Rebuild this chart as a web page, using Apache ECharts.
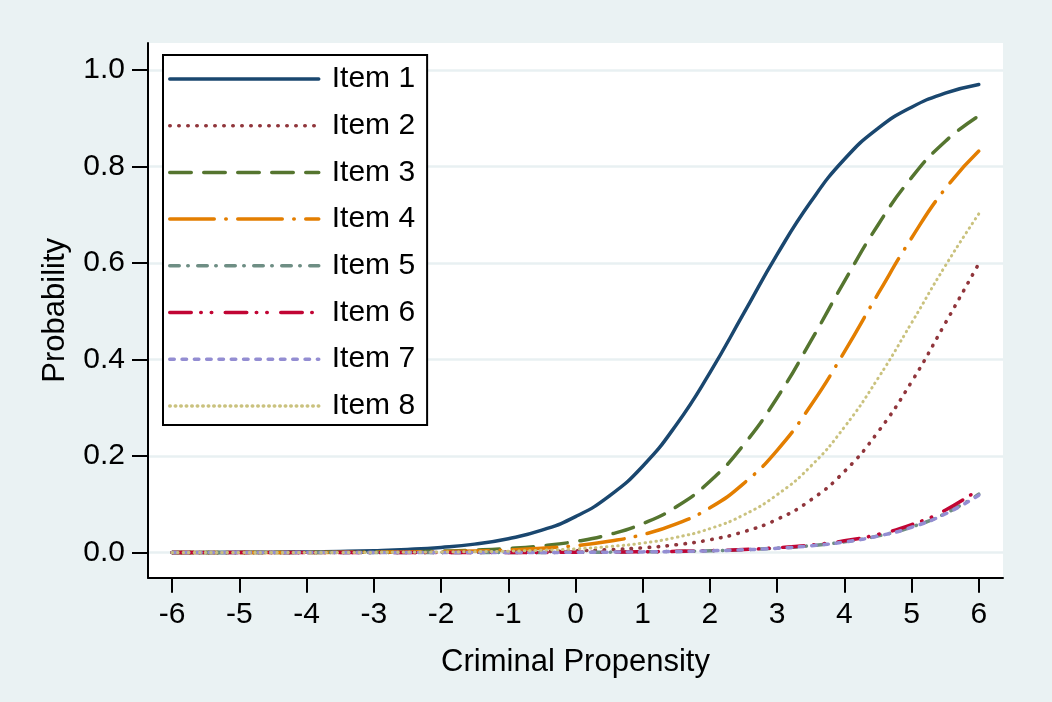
<!DOCTYPE html>
<html><head><meta charset="utf-8">
<script src="https://cdn.jsdelivr.net/npm/echarts@6/dist/echarts.min.js"></script>
<style>html,body{margin:0;padding:0;background:#fff}#c{width:1052px;height:702px}</style>
</head><body><div id="c"></div>
<script>
const xs = [-6,-5.5,-5,-4.5,-4,-3.5,-3,-2.5,-2,-1.5,-1,-0.5,0,0.5,1,1.5,2,2.5,3,3.5,4,4.5,5,5.5,6];
const item1 = [0.0002,0.00033,0.00054,0.00089,0.00147,0.00242,0.00399,0.00656,0.0108,0.0176,0.0288,0.0465,0.0745,0.117,0.179,0.265,0.373,0.495,0.618,0.727,0.815,0.879,0.923,0.952,0.970];
const item2 = [0.00001,0.00002,0.00002,0.00004,0.00007,0.00011,0.00018,0.0003,0.0005,0.0008,0.0014,0.0022,0.0037,0.0061,0.0099,0.0163,0.0266,0.0431,0.069,0.109,0.168,0.250,0.354,0.475,0.599];
const item3 = [0.00006,0.0001,0.00016,0.00026,0.00043,0.00071,0.00117,0.00193,0.00317,0.00522,0.00858,0.0141,0.0230,0.0374,0.060,0.095,0.148,0.223,0.321,0.438,0.562,0.679,0.777,0.852,0.905];
const item4 = [0.00004,0.00007,0.00011,0.00019,0.0003,0.0005,0.0008,0.0013,0.0021,0.0034,0.0055,0.0090,0.0145,0.0234,0.0373,0.0594,0.0928,0.143,0.212,0.305,0.416,0.536,0.652,0.754,0.832];
const item5 = [0.000003,0.000004,0.000007,0.000011,0.000017,0.000027,0.000042,0.000066,0.0001,0.00016,0.00026,0.0004,0.00062,0.00098,0.0015,0.0024,0.0038,0.0059,0.0092,0.0143,0.0223,0.0346,0.0532,0.081,0.121];
const item6 = [0.000003,0.000005,0.000008,0.000012,0.000019,0.000029,0.000046,0.000072,0.00011,0.00018,0.00028,0.00044,0.00068,0.0011,0.0017,0.0026,0.0041,0.0064,0.0101,0.0157,0.0244,0.0377,0.0579,0.0879,0.131];
const item7 = [0.000003,0.000004,0.000007,0.000011,0.000017,0.000026,0.000041,0.000064,0.0001,0.00016,0.00025,0.00039,0.0006,0.00095,0.0015,0.0023,0.0037,0.0058,0.0090,0.0141,0.0220,0.0342,0.0525,0.080,0.119];
const item8 = [0.00003,0.00004,0.00007,0.00011,0.00018,0.00028,0.00045,0.00073,0.00117,0.0019,0.0030,0.0049,0.0078,0.0125,0.0198,0.0317,0.0497,0.078,0.120,0.179,0.260,0.361,0.476,0.594,0.702];

const seriesNames = ['Item 1','Item 2','Item 3','Item 4','Item 5','Item 6','Item 7','Item 8'];
const seriesValues = [item1,item2,item3,item4,item5,item6,item7,item8];
const xTicks = [-6,-5,-4,-3,-2,-1,0,1,2,3,4,5,6];
const yTicks = [0,0.2,0.4,0.6,0.8,1.0];
const xTitle = 'Criminal Propensity';
const yTitle = 'Probability';

const colors = ['#1A476F','#90353B','#55752F','#E37E00','#6E8E84','#C10534','#938DD2','#CAC27E'];
const dashes = ['solid',[0.5,8.5],[21.5,12.5],[44.5,11.5,0.5,11.5],[9.5,8.5,0.5,9.5],[21.5,9.5,0.5,10,0.5,13.5],[4.5,7.8],[0.5,5]];
const widths = [3.5,3.6,3.5,3.5,3.5,3.5,3.5,3];
const FONT = '"Liberation Sans", Arial, sans-serif';

const chart = echarts.init(document.getElementById('c'), null, {renderer:'canvas'});
const series = seriesNames.map((n,i)=>({
  name:n, type:'line', symbol:'none', smooth:0.5,
  data: xs.map((x,j)=>[x, seriesValues[i][j]]),
  lineStyle:{color:colors[i], width:widths[i], type:dashes[i], cap:'round', join:'round'},
  itemStyle:{color:colors[i]},
  z: 3+i
}));

chart.setOption({
  backgroundColor:'#EAF2F3',
  animation:false,
  grid:{left:148, right:49, top:43, bottom:124.3, show:true, backgroundColor:'#ffffff', borderWidth:0},
  xAxis:{
    type:'value', min:-6.36, max:6.36,
    name:xTitle, nameLocation:'middle', nameGap:69,
    nameTextStyle:{fontSize:31, color:'#000', fontFamily:FONT},
    axisLine:{show:true, onZero:false, lineStyle:{color:'#000', width:2}},
    axisTick:{show:true, length:15, lineStyle:{color:'#000', width:2}, customValues:xTicks},
    axisLabel:{fontSize:30, color:'#000', fontFamily:FONT, margin:22, customValues:xTicks, formatter:v=>String(v)},
    splitLine:{show:false}
  },
  yAxis:{
    type:'value', min:-0.052, max:1.056,
    name:yTitle, nameLocation:'middle', nameGap:77,
    nameTextStyle:{fontSize:31, color:'#000', fontFamily:FONT},
    axisLine:{show:true, onZero:false, lineStyle:{color:'#000', width:2}},
    axisTick:{show:true, length:16, lineStyle:{color:'#000', width:2}, customValues:yTicks},
    axisLabel:{fontSize:30, color:'#000', fontFamily:FONT, margin:23, customValues:yTicks, formatter:v=>v.toFixed(1)},
    splitLine:{show:true, lineStyle:{color:'#E8F0F2', width:2.5}}
  },
  legend:{
    show:true, orient:'vertical', left:163, top:55,
    itemWidth:149, itemHeight:30, itemGap:16.7,
    padding:[9,12,4,5],
    backgroundColor:'#ffffff', borderColor:'#000', borderWidth:2, borderRadius:0,
    textStyle:{fontSize:30, color:'#000', fontFamily:FONT, lineHeight:30, padding:[0,0,0,8]},
    lineStyle:{width:3.5},
    itemStyle:{opacity:0},
    data:seriesNames
  },
  series:series
});
</script></body></html>
